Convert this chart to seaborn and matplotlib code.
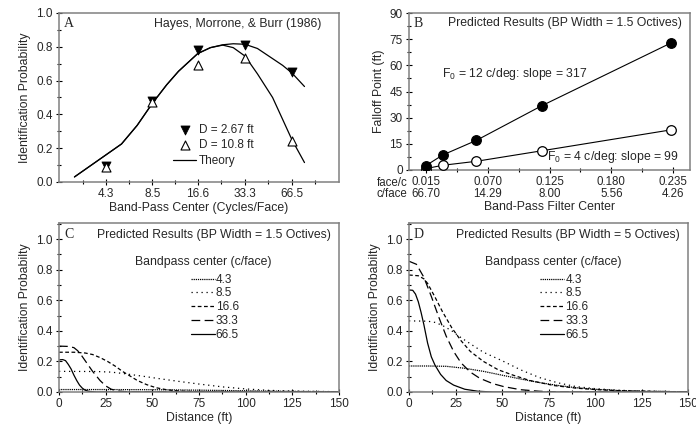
import numpy as np
import matplotlib
matplotlib.use('Agg')
import matplotlib.pyplot as plt
from matplotlib.ticker import MultipleLocator, FixedLocator, NullFormatter, FormatStrFormatter
import seaborn as sns

sns.set_style('ticks')
plt.rcParams['font.family'] = ['Liberation Sans', 'DejaVu Sans']
plt.rcParams['mathtext.default'] = 'regular'

# ---- panel A: Hayes, Morrone & Burr data + theory
a_centers = [4.3, 8.5, 16.6, 33.3, 66.5]
a_near = [0.095, 0.48, 0.78, 0.81, 0.65]      # D = 2.67 ft
a_far = [0.09, 0.475, 0.69, 0.735, 0.24]      # D = 10.8 ft
theory_x = [2.7, 5.4, 6.8, 8.5, 10.5, 12.5, 16.6, 20, 24, 28, 33.3, 40, 50, 58, 66.5, 80]
theory_near = [0.03, 0.225, 0.335, 0.465, 0.575, 0.655, 0.76, 0.795, 0.812, 0.818, 0.815, 0.79, 0.73, 0.69, 0.645, 0.565]
theory_far = [0.03, 0.225, 0.335, 0.465, 0.575, 0.655, 0.76, 0.795, 0.81, 0.795, 0.745, 0.64, 0.50, 0.37, 0.25, 0.115]

# ---- panel B: falloff point vs band-pass filter center
b_facec = [0.015, 0.030, 0.060, 0.118, 0.233]
b_f12 = [2.5, 8.6, 17.0, 36.8, 72.8]
b_f4 = [0.8, 2.7, 5.0, 11.0, 23.0]
b_ticks = [0.015, 0.070, 0.125, 0.180, 0.235]
b_cface = ['66.70', '14.29', '8.00', '5.56', '4.26']

# ---- panels C and D: predicted identification probability vs distance
bp_labels = ['4.3', '8.5', '16.6', '33.3', '66.5']
bp_styles = [(0, (1, 0.7)), (0, (1, 3)), (0, (3, 2)), (0, (7, 3.5)), '-']

c_d = [
    [0, 25, 50, 75, 100, 125, 150],
    [0, 20, 28, 35, 45, 55, 65, 75, 88, 100, 112, 125, 150],
    [0, 8, 14, 18, 22, 26, 30, 34, 38, 42, 47, 52, 58, 65, 75, 90, 150],
    [0, 5, 8, 10, 12, 14, 16, 18, 20, 22, 25, 28, 32, 38, 150],
    [0, 2, 3.5, 5, 6.5, 8, 9.5, 11, 12.5, 14, 16, 20, 150],
]
c_p = [
    [0.016, 0.016, 0.015, 0.012, 0.008, 0.004, 0.002],
    [0.135, 0.134, 0.13, 0.12, 0.103, 0.085, 0.068, 0.052, 0.033, 0.02, 0.011, 0.006, 0.002],
    [0.26, 0.26, 0.255, 0.245, 0.225, 0.2, 0.17, 0.135, 0.105, 0.075, 0.048, 0.028, 0.014, 0.006, 0.002, 0.0, 0.0],
    [0.30, 0.298, 0.29, 0.27, 0.24, 0.205, 0.17, 0.135, 0.105, 0.075, 0.04, 0.018, 0.006, 0.0, 0.0],
    [0.21, 0.212, 0.205, 0.18, 0.15, 0.11, 0.075, 0.045, 0.025, 0.012, 0.004, 0.0, 0.0],
]

d_d = [
    [0, 10, 20, 30, 40, 50, 60, 70, 80, 90, 100, 112, 125, 150],
    [0, 10, 14, 18, 23, 28, 33, 40, 50, 60, 70, 80, 90, 100, 112, 125, 150],
    [0, 5, 8, 10, 14, 18, 23, 28, 33, 40, 48, 56, 65, 78, 90, 100, 112, 125, 150],
    [0, 4, 8, 12, 16, 20, 24, 28, 33, 38, 45, 51, 60, 70, 80, 150],
    [0, 2, 3.5, 5, 6.5, 8, 10, 12, 14, 17, 20, 24, 30, 37, 45, 150],
]
d_p = [
    [0.17, 0.17, 0.168, 0.155, 0.135, 0.11, 0.085, 0.062, 0.043, 0.028, 0.018, 0.01, 0.005, 0.001],
    [0.465, 0.463, 0.455, 0.435, 0.40, 0.355, 0.315, 0.26, 0.205, 0.145, 0.095, 0.06, 0.035, 0.022, 0.012, 0.006, 0.001],
    [0.765, 0.76, 0.74, 0.71, 0.62, 0.525, 0.42, 0.335, 0.265, 0.2, 0.145, 0.11, 0.075, 0.042, 0.025, 0.016, 0.009, 0.005, 0.001],
    [0.855, 0.835, 0.75, 0.625, 0.49, 0.365, 0.265, 0.19, 0.13, 0.09, 0.055, 0.035, 0.015, 0.005, 0.0, 0.0],
    [0.667, 0.665, 0.64, 0.59, 0.52, 0.44, 0.32, 0.23, 0.175, 0.115, 0.075, 0.045, 0.018, 0.005, 0.0, 0.0],
]

FS = 8.5
W, H = 696, 426


def box(l, t, r, b):
    return [l / W, 1 - b / H, (r - l) / W, (b - t) / H]


def style(ax):
    for s in ax.spines.values():
        s.set_visible(True)
        s.set_color('#808080')
        s.set_linewidth(1.1)
    ax.tick_params(which='major', direction='inout', length=5, width=0.8,
                   color='black', labelsize=FS, pad=2)
    ax.tick_params(which='minor', direction='inout', length=3.5, width=0.8, color='black')


def letter(ax, s, x=0.018, y=0.935):
    ax.text(x, y, s, transform=ax.transAxes, family='Liberation Serif',
            fontsize=10, va='center', ha='left')


fig = plt.figure(figsize=(6.96, 4.26), dpi=100)

# ---------------- A
ax = fig.add_axes(box(59, 13, 339, 182))
style(ax)
ax.set_xscale('log', base=2)
sns.lineplot(x=theory_x, y=theory_near, ax=ax, color='black', lw=0.9, label='Theory')
sns.lineplot(x=theory_x, y=theory_far, ax=ax, color='black', lw=0.9)
sns.scatterplot(x=a_centers, y=a_near, ax=ax, marker='v', s=42, color='black',
                edgecolor='black', linewidth=0.6, label='D = 2.67 ft', zorder=4)
sns.scatterplot(x=a_centers, y=a_far, ax=ax, marker='^', s=42, facecolor='white',
                edgecolor='black', linewidth=0.8, label='D = 10.8 ft', zorder=4)
ax.set_xlim(2.15, 133)
ax.set_ylim(0, 1.0)
ax.xaxis.set_major_locator(FixedLocator(a_centers))
ax.set_xticklabels([str(c) for c in a_centers])
mids = np.sqrt(np.array(a_centers[:-1]) * np.array(a_centers[1:]))
ax.xaxis.set_minor_locator(FixedLocator([a_centers[0] / np.sqrt(2), *mids, a_centers[-1] * np.sqrt(2)]))
ax.xaxis.set_minor_formatter(NullFormatter())
ax.yaxis.set_major_locator(MultipleLocator(0.2))
ax.yaxis.set_minor_locator(MultipleLocator(0.1))
ax.yaxis.set_major_formatter(FormatStrFormatter('%.1f'))
ax.set_xlabel('Band-Pass Center (Cycles/Face)', fontsize=8.8, labelpad=1)
ax.set_ylabel('Identification Probability', fontsize=8.8, labelpad=4)
h, l = ax.get_legend_handles_labels()
order = [l.index('D = 2.67 ft'), l.index('D = 10.8 ft'), l.index('Theory')]
ax.legend([h[i] for i in order], [l[i] for i in order], loc='upper left',
          bbox_to_anchor=(0.385, 0.38), frameon=False, fontsize=FS, borderpad=0,
          handlelength=2.0, handletextpad=0.2, labelspacing=0.3)
letter(ax, 'A')
ax.text(0.936, 0.935, 'Hayes, Morrone, & Burr (1986)', transform=ax.transAxes,
        ha='right', va='center', fontsize=8.8)

# ---------------- B
ax = fig.add_axes(box(409, 13, 690, 170))
style(ax)
sns.lineplot(x=b_facec, y=b_f4, ax=ax, color='black', lw=0.8)
sns.lineplot(x=b_facec, y=b_f12, ax=ax, color='black', lw=0.8)
sns.scatterplot(x=b_facec, y=b_f4, ax=ax, marker='o', s=48, facecolor='white',
                edgecolor='black', linewidth=0.9, zorder=4)
sns.scatterplot(x=b_facec, y=b_f12, ax=ax, marker='o', s=48, color='black',
                edgecolor='black', linewidth=0.9, zorder=5)
ax.set_xlim(0, 0.25)
ax.set_ylim(0, 90)
ax.xaxis.set_major_locator(FixedLocator(b_ticks))
ax.set_xticklabels([f'{t:.3f}\n{c}' for t, c in zip(b_ticks, b_cface)])
for lab in ax.get_xticklabels():
    lab.set_linespacing(0.95)
ax.xaxis.set_minor_locator(FixedLocator([(a + b) / 2 for a, b in zip(b_ticks[:-1], b_ticks[1:])]))
ax.yaxis.set_major_locator(MultipleLocator(15))
ax.yaxis.set_minor_locator(MultipleLocator(7.5))
ax.tick_params(axis='x', labelsize=8.3)
ax.text(-0.005, -0.118, 'face/c\nc/face', transform=ax.transAxes, ha='right', va='center',
        fontsize=8.3, linespacing=0.95)
ax.set_xlabel('Band-Pass Filter Center', fontsize=8.8, labelpad=1)
ax.set_ylabel('Falloff Point (ft)', fontsize=8.8, labelpad=3)
letter(ax, 'B', 0.015, 0.935)
ax.text(0.972, 0.935, 'Predicted Results (BP Width = 1.5 Octives)', transform=ax.transAxes,
        ha='right', va='center', fontsize=8.8)
ax.text(0.117, 0.61, r'F$_0$ = 12 c/deg: slope = 317', transform=ax.transAxes,
        ha='left', va='center', fontsize=8.8)
ax.text(0.49, 0.085, r'F$_0$ = 4 c/deg: slope = 99', transform=ax.transAxes,
        ha='left', va='center', fontsize=8.8)


# ---------------- C and D
def distance_panel(rect, xs, ys, tag, title):
    ax = fig.add_axes(rect)
    style(ax)
    for x, y, lab, ls in zip(xs, ys, bp_labels, bp_styles):
        sns.lineplot(x=x, y=y, ax=ax, color='black', lw=0.9, linestyle=ls, label=lab)
    ax.set_xlim(0, 150)
    ax.set_ylim(0, 1.105)
    ax.xaxis.set_major_locator(MultipleLocator(25))
    ax.xaxis.set_minor_locator(MultipleLocator(12.5))
    ax.yaxis.set_major_locator(FixedLocator([0, 0.2, 0.4, 0.6, 0.8, 1.0]))
    ax.yaxis.set_minor_locator(MultipleLocator(0.1))
    ax.yaxis.set_major_formatter(FormatStrFormatter('%.1f'))
    ax.set_xlabel('Distance (ft)', fontsize=8.8, labelpad=1)
    ax.set_ylabel('Identification Probabilty', fontsize=8.8, labelpad=4)
    ax.legend(loc='upper left', bbox_to_anchor=(0.45, 0.735), frameon=False,
              fontsize=FS, borderpad=0, handlelength=2.0, handletextpad=0.1,
              labelspacing=0.15)
    ax.text(0.516, 0.77, 'Bandpass center (c/face)', transform=ax.transAxes,
            ha='center', va='center', fontsize=8.8)
    letter(ax, tag, 0.018, 0.93)
    ax.text(0.972, 0.93, title, transform=ax.transAxes, ha='right', va='center', fontsize=8.8)
    return ax


distance_panel(box(59, 223, 339, 392), c_d, c_p, 'C', 'Predicted Results (BP Width = 1.5 Octives)')
distance_panel(box(409, 223, 688, 392), d_d, d_p, 'D', 'Predicted Results (BP Width = 5 Octives)')

fig.savefig('out.png', dpi=100)
